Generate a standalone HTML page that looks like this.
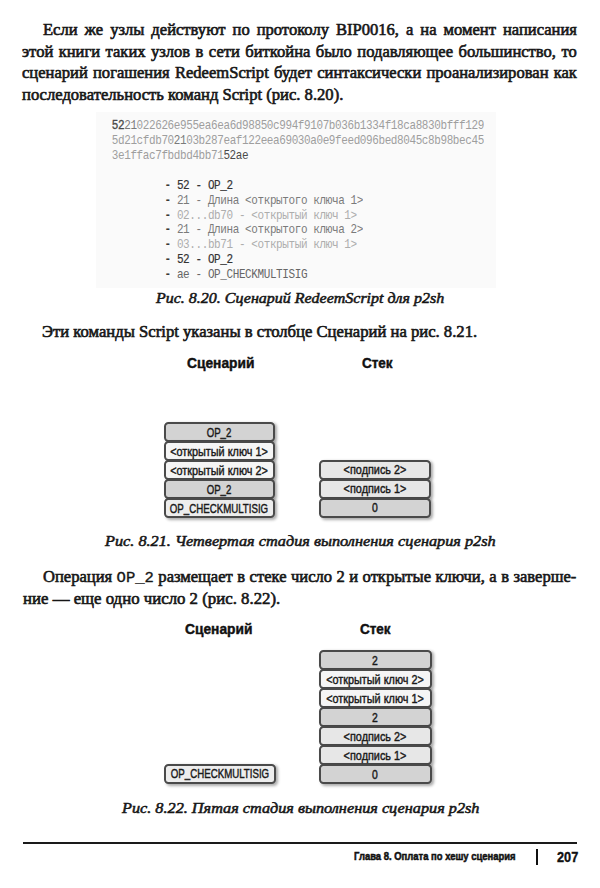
<!DOCTYPE html>
<html><head><meta charset="utf-8"><style>
html,body{margin:0;padding:0;background:#fff;}
body{width:600px;height:888px;position:relative;overflow:hidden;}
.l{position:absolute;white-space:nowrap;line-height:1;}
.b{-webkit-text-stroke:0.5px #161616;}
.bx{position:absolute;box-sizing:border-box;border:2px solid #4a4a4a;border-radius:4.5px;box-shadow:2px 1.5px 3px rgba(0,0,0,0.33);font-family:'Liberation Sans', sans-serif;font-size:13px;color:#1a1a1a;line-height:1;-webkit-text-stroke:0.45px #1a1a1a;}
.u{font-style:normal;position:relative;top:-1px;}
.bx span{position:absolute;left:50%;white-space:nowrap;transform-origin:50% 50%;}
</style></head><body>
<div class="l" style="left:42.60px;top:22.00px;font-family:'Liberation Serif', serif;font-size:16px;font-weight:normal;font-style:normal;color:#161616;width:515.85px;text-align:justify;text-align-last:justify;transform:scale(1.035,1);transform-origin:0 13.00px;-webkit-text-stroke:0.6px #161616;">Если же узлы действуют по протоколу BIP0016, а на момент написания</div>
<div class="l" style="left:21.60px;top:43.70px;font-family:'Liberation Serif', serif;font-size:16px;font-weight:normal;font-style:normal;color:#161616;width:535.94px;text-align:justify;text-align-last:justify;transform:scale(1.035,1);transform-origin:0 13.00px;-webkit-text-stroke:0.6px #161616;">этой книги таких узлов в сети биткойна было подавляющее большинство, то</div>
<div class="l" style="left:21.60px;top:65.40px;font-family:'Liberation Serif', serif;font-size:16px;font-weight:normal;font-style:normal;color:#161616;width:536.14px;text-align:justify;text-align-last:justify;transform:scale(1.035,1);transform-origin:0 13.00px;-webkit-text-stroke:0.6px #161616;">сценарий погашения RedeemScript будет синтаксически проанализирован как</div>
<div class="l" style="left:21.80px;top:87.00px;font-family:'Liberation Serif', serif;font-size:16px;font-weight:normal;font-style:normal;color:#161616;transform:scale(1.037,1);transform-origin:0 13.00px;-webkit-text-stroke:0.6px #161616;">последовательность команд Script (рис. 8.20).</div>
<div style="position:absolute;left:96px;top:112px;width:400px;height:176px;background:#fafafa"></div>
<div class="l" style="left:111.80px;top:120.50px;font-family:'Liberation Mono', monospace;font-size:11px;font-weight:normal;font-style:normal;color:#161616;letter-spacing:-0.4px;transform:scale(1,1.2);transform-origin:0 8.00px;"><span style="color:#4a4a4a;-webkit-text-stroke:0.3px #4a4a4a">52</span><span style="color:#7a7a7a;">21</span><span style="color:#9e9e9e;">022626e955ea6ea6d98850c994f9107b036b1334f18ca8830bfff129</span></div>
<div class="l" style="left:111.80px;top:135.50px;font-family:'Liberation Mono', monospace;font-size:11px;font-weight:normal;font-style:normal;color:#161616;letter-spacing:-0.4px;transform:scale(1,1.2);transform-origin:0 8.00px;"><span style="color:#9e9e9e;">5d21cfdb70</span><span style="color:#7a7a7a;">21</span><span style="color:#9e9e9e;">03b287eaf122eea69030a0e9feed096bed8045c8b98bec45</span></div>
<div class="l" style="left:111.80px;top:150.50px;font-family:'Liberation Mono', monospace;font-size:11px;font-weight:normal;font-style:normal;color:#161616;letter-spacing:-0.4px;transform:scale(1,1.2);transform-origin:0 8.00px;"><span style="color:#9e9e9e;">3e1ffac7fbdbd4bb71</span><span style="color:#4a4a4a;">52ae</span></div>
<div class="l" style="left:164.50px;top:180.70px;font-family:'Liberation Mono', monospace;font-size:11px;font-weight:normal;font-style:normal;color:#161616;letter-spacing:-0.4px;transform:scale(1,1.2);transform-origin:0 8.00px;"><span style="color:#3a3a3a;font-weight:bold;">- </span><span style="color:#333;-webkit-text-stroke:0.15px #333">52 - OP_2</span></div>
<div class="l" style="left:164.50px;top:195.63px;font-family:'Liberation Mono', monospace;font-size:11px;font-weight:normal;font-style:normal;color:#161616;letter-spacing:-0.4px;transform:scale(1,1.2);transform-origin:0 8.00px;"><span style="color:#3a3a3a;font-weight:bold;">- </span><span style="color:#7a7a7a;">21 - Длина &lt;открытого ключа 1&gt;</span></div>
<div class="l" style="left:164.50px;top:210.56px;font-family:'Liberation Mono', monospace;font-size:11px;font-weight:normal;font-style:normal;color:#161616;letter-spacing:-0.4px;transform:scale(1,1.2);transform-origin:0 8.00px;"><span style="color:#3a3a3a;font-weight:bold;">- </span><span style="color:#adadad;">02...db70 - &lt;открытый ключ 1&gt;</span></div>
<div class="l" style="left:164.50px;top:225.49px;font-family:'Liberation Mono', monospace;font-size:11px;font-weight:normal;font-style:normal;color:#161616;letter-spacing:-0.4px;transform:scale(1,1.2);transform-origin:0 8.00px;"><span style="color:#3a3a3a;font-weight:bold;">- </span><span style="color:#7a7a7a;">21 - Длина &lt;открытого ключа 2&gt;</span></div>
<div class="l" style="left:164.50px;top:240.42px;font-family:'Liberation Mono', monospace;font-size:11px;font-weight:normal;font-style:normal;color:#161616;letter-spacing:-0.4px;transform:scale(1,1.2);transform-origin:0 8.00px;"><span style="color:#3a3a3a;font-weight:bold;">- </span><span style="color:#adadad;">03...bb71 - &lt;открытый ключ 1&gt;</span></div>
<div class="l" style="left:164.50px;top:255.35px;font-family:'Liberation Mono', monospace;font-size:11px;font-weight:normal;font-style:normal;color:#161616;letter-spacing:-0.4px;transform:scale(1,1.2);transform-origin:0 8.00px;"><span style="color:#3a3a3a;font-weight:bold;">- </span><span style="color:#333;-webkit-text-stroke:0.15px #333">52 - OP_2</span></div>
<div class="l" style="left:164.50px;top:270.28px;font-family:'Liberation Mono', monospace;font-size:11px;font-weight:normal;font-style:normal;color:#161616;letter-spacing:-0.4px;transform:scale(1,1.2);transform-origin:0 8.00px;"><span style="color:#3a3a3a;font-weight:bold;">- </span><span style="color:#666;">ae - OP_CHECKMULTISIG</span></div>
<div class="l" style="left:155.80px;top:290.92px;font-family:'Liberation Serif', serif;font-size:15px;font-weight:normal;font-style:italic;color:#161616;transform:scale(1.065,1);transform-origin:0 12.58px;-webkit-text-stroke:0.55px #161616;">Рис. 8.20. Сценарий RedeemScript для p2sh</div>
<div class="l" style="left:42.00px;top:324.40px;font-family:'Liberation Serif', serif;font-size:16px;font-weight:normal;font-style:normal;color:#161616;transform:scale(1.04,1);transform-origin:0 13.00px;-webkit-text-stroke:0.6px #161616;">Эти команды Script указаны в столбце Сценарий на рис. 8.21.</div>
<div class="l" style="left:186.60px;top:355.01px;font-family:'Liberation Sans', sans-serif;font-size:15px;font-weight:bold;font-style:normal;color:#111;transform:scale(0.918,1);transform-origin:0 12.99px;-webkit-text-stroke:0.45px #111;">Сценарий</div>
<div class="l" style="left:361.60px;top:355.01px;font-family:'Liberation Sans', sans-serif;font-size:15px;font-weight:bold;font-style:normal;color:#111;transform:scale(0.9,1);transform-origin:0 12.99px;-webkit-text-stroke:0.45px #111;">Стек</div>
<div class="bx" style="left:163.6px;top:421.8px;width:111.8px;height:20.2px;background:#d3d3d3"><span style="top:1.79px;transform:translateX(-50%) scaleX(0.74)">OP<i class="u">_</i>2</span></div>
<div class="bx" style="left:163.6px;top:440.8px;width:111.8px;height:20.2px;background:#f5f5f5"><span style="top:1.79px;transform:translateX(-50%) scaleX(0.835)">&lt;открытый ключ 1&gt;</span></div>
<div class="bx" style="left:163.6px;top:459.8px;width:111.8px;height:20.2px;background:#f5f5f5"><span style="top:1.79px;transform:translateX(-50%) scaleX(0.835)">&lt;открытый ключ 2&gt;</span></div>
<div class="bx" style="left:163.6px;top:478.8px;width:111.8px;height:20.2px;background:#d3d3d3"><span style="top:1.79px;transform:translateX(-50%) scaleX(0.74)">OP<i class="u">_</i>2</span></div>
<div class="bx" style="left:163.6px;top:497.8px;width:111.8px;height:20.2px;background:#ededed"><span style="top:1.79px;transform:translateX(-50%) scaleX(0.745)">OP<i class="u">_</i>CHECKMULTISIG</span></div>
<div class="bx" style="left:319.1px;top:459.6px;width:112.2px;height:20.2px;background:#e7e7e7"><span style="top:1.79px;transform:translateX(-50%) scaleX(0.835)">&lt;подпись 2&gt;</span></div>
<div class="bx" style="left:319.1px;top:478.6px;width:112.2px;height:20.2px;background:#e7e7e7"><span style="top:1.79px;transform:translateX(-50%) scaleX(0.835)">&lt;подпись 1&gt;</span></div>
<div class="bx" style="left:319.1px;top:497.6px;width:112.2px;height:20.2px;background:#d3d3d3"><span style="top:1.79px;transform:translateX(-50%) scaleX(0.8)">0</span></div>
<div class="l" style="left:105.00px;top:533.72px;font-family:'Liberation Serif', serif;font-size:15px;font-weight:normal;font-style:italic;color:#161616;transform:scale(1.083,1);transform-origin:0 12.58px;-webkit-text-stroke:0.55px #161616;">Рис. 8.21. Четвертая стадия выполнения сценария p2sh</div>
<div class="l" style="left:43.00px;top:568.80px;font-family:'Liberation Serif', serif;font-size:16px;font-weight:normal;font-style:normal;color:#161616;width:515.27px;text-align:justify;text-align-last:justify;transform:scale(1.035,1);transform-origin:0 13.00px;-webkit-text-stroke:0.6px #161616;">Операция <span style="font-family:'Liberation Mono', monospace;font-weight:normal;font-size:15px;-webkit-text-stroke:0.35px #161616">OP_2</span> размещает в стеке число 2 и открытые ключи, а в заверше-</div>
<div class="l" style="left:22.60px;top:590.60px;font-family:'Liberation Serif', serif;font-size:16px;font-weight:normal;font-style:normal;color:#161616;transform:scale(1.05,1);transform-origin:0 13.00px;-webkit-text-stroke:0.6px #161616;">ние — еще одно число 2 (рис. 8.22).</div>
<div class="l" style="left:185.30px;top:621.01px;font-family:'Liberation Sans', sans-serif;font-size:15px;font-weight:bold;font-style:normal;color:#111;transform:scale(0.918,1);transform-origin:0 12.99px;-webkit-text-stroke:0.45px #111;">Сценарий</div>
<div class="l" style="left:360.20px;top:621.01px;font-family:'Liberation Sans', sans-serif;font-size:15px;font-weight:bold;font-style:normal;color:#111;transform:scale(0.9,1);transform-origin:0 12.99px;-webkit-text-stroke:0.45px #111;">Стек</div>
<div class="bx" style="left:319.1px;top:650.3px;width:112.6px;height:20.2px;background:#d3d3d3"><span style="top:1.79px;transform:translateX(-50%) scaleX(0.8)">2</span></div>
<div class="bx" style="left:319.1px;top:669.3px;width:112.6px;height:20.2px;background:#f5f5f5"><span style="top:1.79px;transform:translateX(-50%) scaleX(0.835)">&lt;открытый ключ 2&gt;</span></div>
<div class="bx" style="left:319.1px;top:688.3px;width:112.6px;height:20.2px;background:#f5f5f5"><span style="top:1.79px;transform:translateX(-50%) scaleX(0.835)">&lt;открытый ключ 1&gt;</span></div>
<div class="bx" style="left:319.1px;top:707.3px;width:112.6px;height:20.2px;background:#d3d3d3"><span style="top:1.79px;transform:translateX(-50%) scaleX(0.8)">2</span></div>
<div class="bx" style="left:319.1px;top:726.3px;width:112.6px;height:20.2px;background:#e7e7e7"><span style="top:1.79px;transform:translateX(-50%) scaleX(0.835)">&lt;подпись 2&gt;</span></div>
<div class="bx" style="left:319.1px;top:745.3px;width:112.6px;height:20.2px;background:#e7e7e7"><span style="top:1.79px;transform:translateX(-50%) scaleX(0.835)">&lt;подпись 1&gt;</span></div>
<div class="bx" style="left:319.1px;top:764.3px;width:112.6px;height:20.2px;background:#d3d3d3"><span style="top:1.79px;transform:translateX(-50%) scaleX(0.8)">0</span></div>
<div class="bx" style="left:164.3px;top:764.2px;width:112px;height:19.8px;background:#ededed"><span style="top:1.19px;transform:translateX(-50%) scaleX(0.745)">OP<i class="u">_</i>CHECKMULTISIG</span></div>
<div class="l" style="left:121.50px;top:800.82px;font-family:'Liberation Serif', serif;font-size:15px;font-weight:normal;font-style:italic;color:#161616;transform:scale(1.082,1);transform-origin:0 12.58px;-webkit-text-stroke:0.55px #161616;">Рис. 8.22. Пятая стадия выполнения сценария p2sh</div>
<div style="position:absolute;left:23px;top:842.4px;width:554px;height:1.3px;background:#1a1a1a"></div>
<div class="l" style="left:353.80px;top:850.25px;font-family:'Liberation Sans', sans-serif;font-size:11.6px;font-weight:bold;font-style:normal;color:#111;transform:scale(0.815,1);transform-origin:0 10.05px;-webkit-text-stroke:0.55px #111;">Глава 8. Оплата по хешу сценария</div>
<div style="position:absolute;left:536.2px;top:848.7px;width:1.6px;height:16.3px;background:#111"></div>
<div class="l" style="left:556.50px;top:849.08px;font-family:'Liberation Sans', sans-serif;font-size:15.5px;font-weight:bold;font-style:normal;color:#111;transform:scale(0.82,1);transform-origin:0 13.42px;-webkit-text-stroke:0.4px #111;">207</div>
</body></html>
